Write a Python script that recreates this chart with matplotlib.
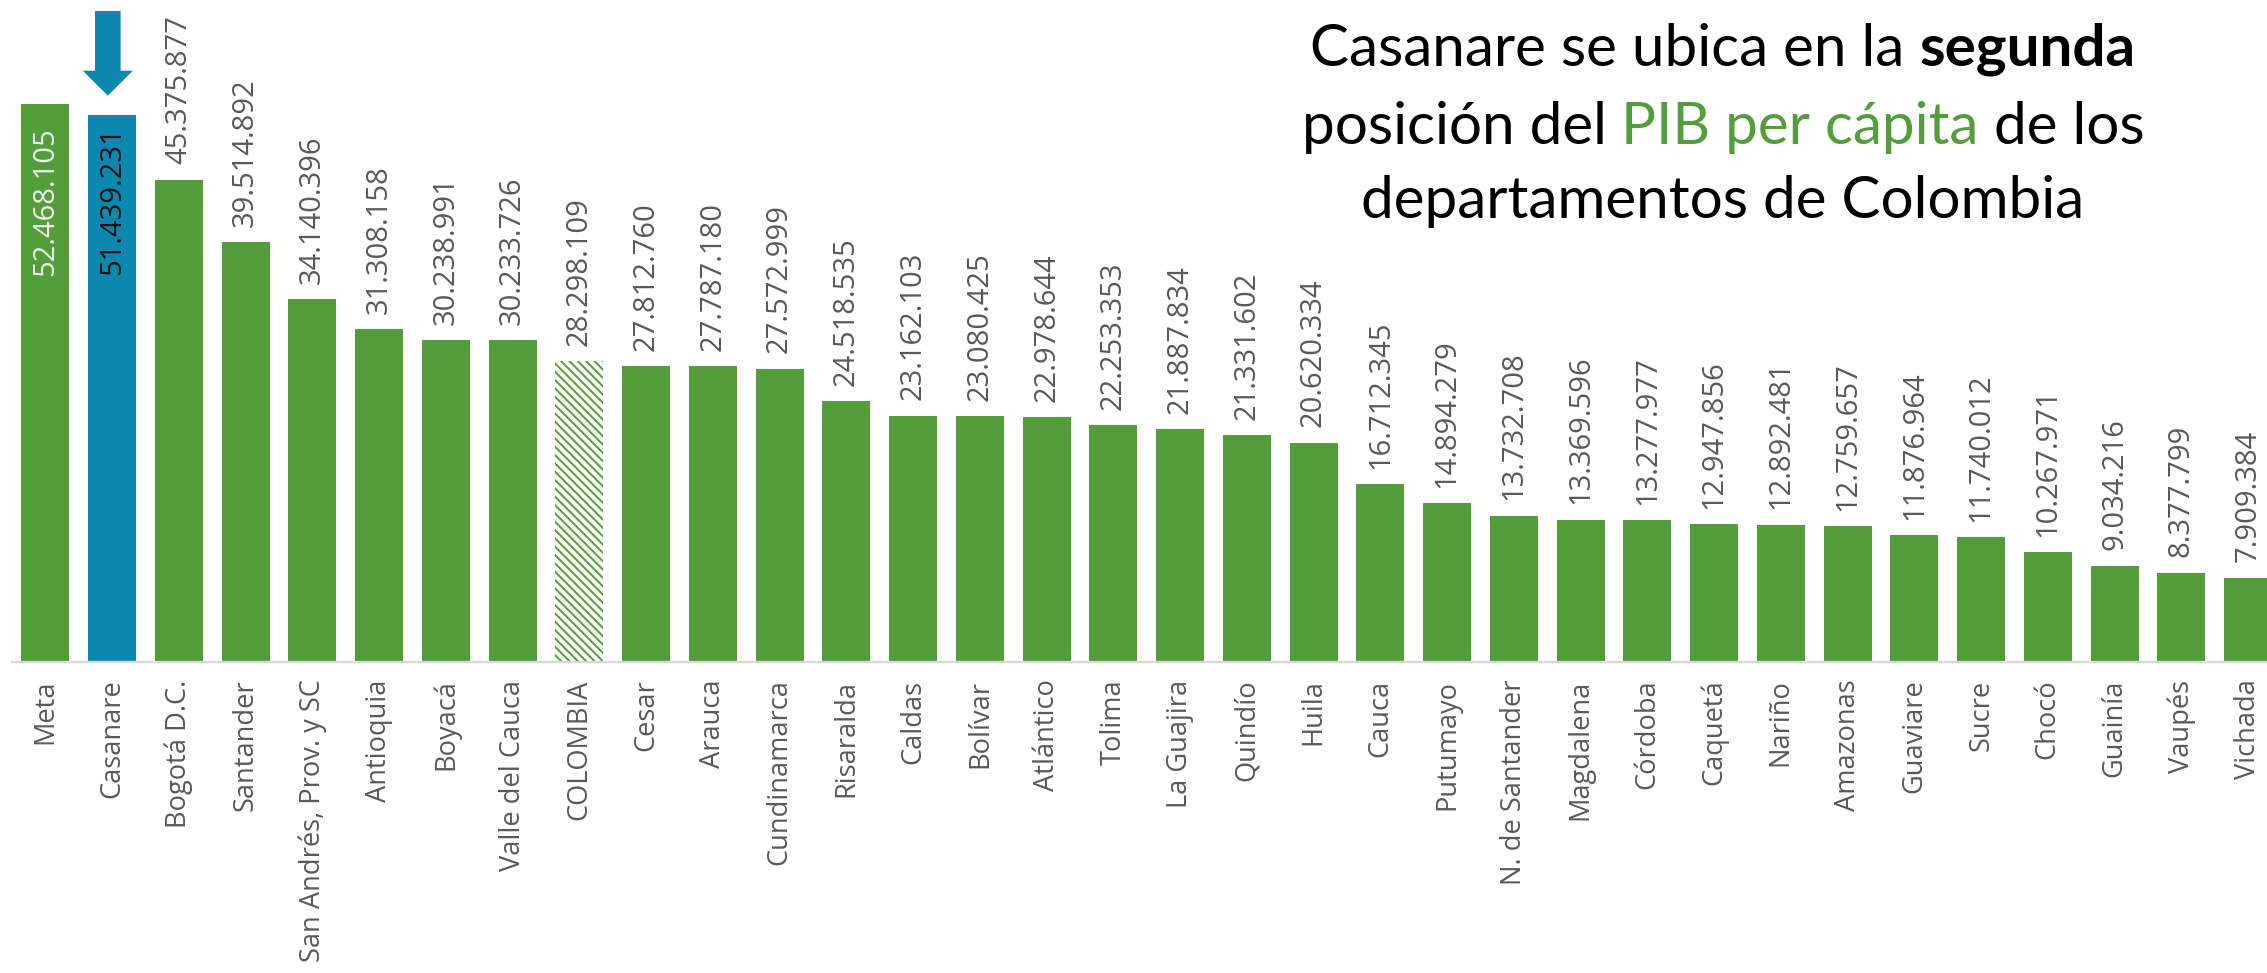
import matplotlib
matplotlib.use("Agg")
import matplotlib.pyplot as plt
from matplotlib.patches import Polygon

categories = ["Meta", "Casanare", "Bogotá D.C.", "Santander", "San Andrés, Prov. y SC",
              "Antioquia", "Boyacá", "Valle del Cauca", "COLOMBIA", "Cesar", "Arauca",
              "Cundinamarca", "Risaralda", "Caldas", "Bolívar", "Atlántico", "Tolima",
              "La Guajira", "Quindío", "Huila", "Cauca", "Putumayo", "N. de Santander",
              "Magdalena", "Córdoba", "Caquetá", "Nariño", "Amazonas", "Guaviare", "Sucre",
              "Chocó", "Guainía", "Vaupés", "Vichada"]
values = [52468105, 51439231, 45375877, 39514892, 34140396, 31308158, 30238991,
          30233726, 28298109, 27812760, 27787180, 27572999, 24518535, 23162103,
          23080425, 22978644, 22253353, 21887834, 21331602, 20620334, 16712345,
          14894279, 13732708, 13369596, 13277977, 12947856, 12892481, 12759657,
          11876964, 11740012, 10267971, 9034216, 8377799, 7909384]
highlight = "Casanare"
national = "COLOMBIA"

GREEN = "#539D3A"
BLUE = "#0B87B0"
GREY = "#595959"

W, H = 2267, 973
fig = plt.figure(figsize=(W / 100, H / 100), dpi=100)

base_px = 661.5
px_per_unit = 10.62e-6
left_px = 12
pitch = 66.75
FS_TICK = 19.6
FS_VAL = 21

ax = fig.add_axes([left_px / W, 1 - base_px / H, (W - left_px) / W, base_px / H])
ax.set_xlim(-0.5, -0.5 + (W - left_px) / pitch)
ax.set_ylim(0, base_px / px_per_unit)

plt.rcParams['hatch.linewidth'] = 1.4
plt.rcParams['hatch.color'] = GREEN

for i, (c, v) in enumerate(zip(categories, values)):
    if c == national:
        ax.bar(i, v, width=0.72, facecolor="white", edgecolor=GREEN, hatch="\\\\\\\\", linewidth=0)
    else:
        ax.bar(i, v, width=0.72, color=BLUE if c == highlight else GREEN, linewidth=0)

def fmt(v):
    return f"{v:,}".replace(",", ".")

inside_top = (base_px - 127) / px_per_unit
for i, (c, v) in enumerate(zip(categories, values)):
    if i == 0:
        ax.text(i, inside_top, fmt(v), rotation=90, ha="center", va="top",
                fontsize=FS_VAL, family="Open Sans", color="#F0F0F0")
    elif c == highlight:
        ax.text(i, inside_top, fmt(v), rotation=90, ha="center", va="top",
                fontsize=FS_VAL, family="Open Sans", color="#111111")
    else:
        ax.annotate(fmt(v), (i, v), xytext=(0, 11), textcoords="offset points",
                    rotation=90, ha="center", va="bottom", fontsize=FS_VAL,
                    family="Open Sans", color=GREY)

# arrow above highlighted bar
hi = categories.index(highlight)
xc = hi - 4.3 / pitch
def py(p):
    return (base_px - p) / px_per_unit
sw = 12.8 / pitch
hw = 25 / pitch
verts = [(xc - sw, py(11)), (xc + sw, py(11)), (xc + sw, py(70.7)), (xc + hw, py(70.7)),
         (xc, py(95.7)), (xc - hw, py(70.7)), (xc - sw, py(70.7))]
ax.add_patch(Polygon(verts, closed=True, facecolor=BLUE, edgecolor="none", clip_on=False))

ax.set_xticks(range(len(categories)))
ax.set_xticklabels(categories, rotation=90, fontsize=FS_TICK, family="Open Sans", color=GREY)
ax.tick_params(axis="x", length=0, pad=13)
ax.set_yticks([])
for s in ["top", "right", "left"]:
    ax.spines[s].set_visible(False)
ax.spines["bottom"].set_color("#D9D9D9")
ax.spines["bottom"].set_linewidth(1.6)

# title with mixed styles
title_lines = [
    [("Casanare se ubica en la ", "black", "normal"), ("segunda", "black", "bold")],
    [("posición del ", "black", "normal"), ("PIB per cápita", GREEN, "normal"), (" de los", "black", "normal")],
    [("departamentos de Colombia", "black", "normal")],
]
baselines = [66, 144, 218]
center_x = 1723
renderer = fig.canvas.get_renderer()
for segs, bl in zip(title_lines, baselines):
    texts = []
    widths = []
    for s, col, wt in segs:
        t = fig.text(0, 1 - bl / H, s, fontsize=42, family="Lato", color=col,
                     weight=wt, va="baseline", ha="left")
        widths.append(t.get_window_extent(renderer).width)
        texts.append(t)
    total = sum(widths)
    x = center_x - total / 2
    for t, w in zip(texts, widths):
        t.set_x(x / W)
        x += w

fig.savefig("out.png", dpi=100)
